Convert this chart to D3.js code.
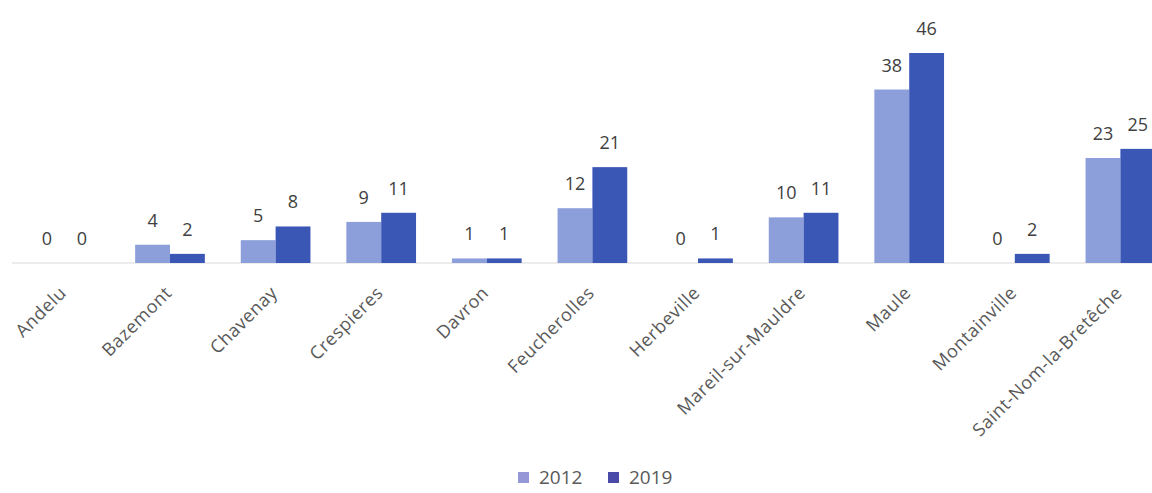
<!DOCTYPE html>
<meta charset="utf-8">
<style>
    body { margin: 0; background: #fff; }
    text { font-family: "Open Sans", sans-serif; fill: #595959; }
</style>
<body>
<svg></svg>
<script src="https://d3js.org/d3.v7.min.js"></script>
<script>
    let categories = ["Andelu", "Bazemont", "Chavenay", "Crespieres", "Davron", "Feucherolles",
        "Herbeville", "Mareil-sur-Mauldre", "Maule", "Montainville", "Saint-Nom-la-Bretêche"];
    let seriesNames = ["2012", "2019"];
    let values2012 = [0, 4, 5, 9, 1, 12, 0, 10, 38, 0, 23];
    let values2019 = [0, 2, 8, 11, 1, 21, 1, 11, 46, 2, 25];
    let colors = ["#8d9fdb", "#3a57b6"];
    let legendColors = ["#9697d6", "#4a4aa8"];

    let width = 1152,
        height = 493;

    let svg = d3.select("svg")
        .attr("width", width)
        .attr("height", height);

    let rows = categories.map(function (c, i) {
        return {name: c, values: [values2012[i], values2019[i]]};
    });

    let x0 = d3.scaleBand()
        .domain(categories)
        .range([11.6, 1173.2])
        .paddingInner(0.34)
        .paddingOuter(0.17);

    let x1 = d3.scaleBand()
        .domain(seriesNames)
        .range([0, x0.bandwidth()]);

    let y = d3.scaleLinear()
        .domain([0, 46])
        .range([263, 53]);

    // baseline
    svg.append("line")
        .attr("x1", 12).attr("x2", width)
        .attr("y1", y(0)).attr("y2", y(0))
        .attr("stroke", "#d9d9d9")
        .attr("stroke-width", 1);

    let groups = svg.append("g").selectAll("g")
        .data(rows)
        .enter().append("g")
        .attr("transform", function (d) { return "translate(" + x0(d.name) + ",0)"; });

    let cells = groups.selectAll("g")
        .data(function (d) {
            return d.values.map(function (v, i) { return {key: seriesNames[i], value: v, i: i}; });
        })
        .enter().append("g");

    cells.append("rect")
        .attr("x", function (d) { return x1(d.key); })
        .attr("width", x1.bandwidth())
        .attr("y", function (d) { return y(d.value); })
        .attr("height", function (d) { return y(0) - y(d.value); })
        .attr("fill", function (d) { return colors[d.i]; });

    cells.append("text")
        .attr("x", function (d) { return x1(d.key) + x1.bandwidth() / 2; })
        .attr("y", function (d) { return y(d.value) - 18; })
        .attr("text-anchor", "middle")
        .style("font-size", "18px")
        .style("fill", "#404040")
        .text(function (d) { return d.value; });

    // category labels, rotated
    svg.append("g").selectAll("text")
        .data(categories)
        .enter().append("text")
        .attr("text-anchor", "end")
        .attr("transform", function (d) {
            return "translate(" + (x0(d) + x0.bandwidth() / 2 + 3) + ",294) rotate(-45)";
        })
        .style("font-size", "18px")
        .style("letter-spacing", "0.6px")
        .text(function (d) { return d; });

    // legend
    let legend = svg.append("g").selectAll("g")
        .data(seriesNames)
        .enter().append("g")
        .attr("transform", function (d, i) { return "translate(" + (518 + i * 90) + ",472)"; });

    legend.append("rect")
        .attr("width", 11).attr("height", 11)
        .attr("fill", function (d, i) { return legendColors[i]; });

    legend.append("text")
        .attr("x", 21)
        .attr("y", 12)
        .style("font-size", "19px")
        .text(function (d) { return d; });
</script>
</body>
